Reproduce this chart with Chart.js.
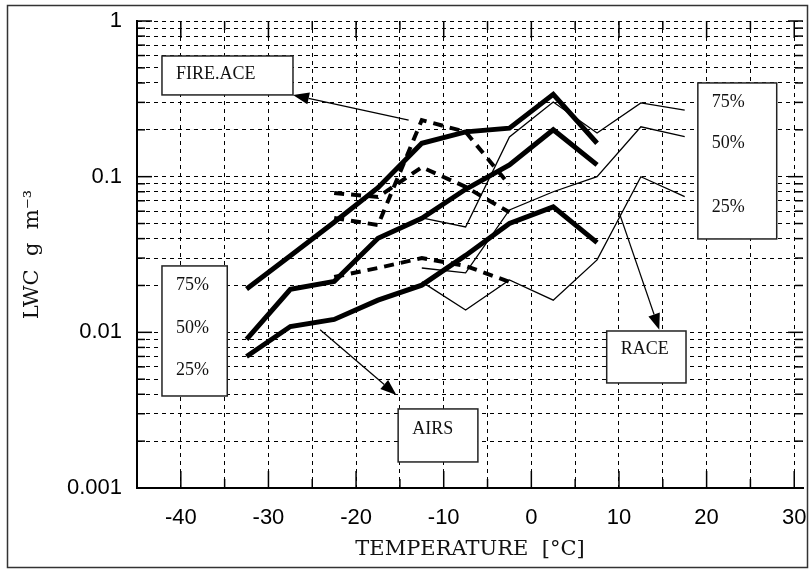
<!DOCTYPE html>
<html>
<head>
<meta charset="utf-8">
<script src="https://cdn.jsdelivr.net/npm/chart.js@4.4.0/dist/chart.umd.min.js"></script>
<style>
  html, body { margin: 0; padding: 0; background: #fff; }
  #wrap { width: 811px; height: 575px; }
</style>
</head>
<body>
<div id="wrap"><canvas id="myChart" width="811" height="575"></canvas></div>
<script>
// AIRS (thick solid), percentiles of LWC in g m-3
const airsTemps = [-32.5, -27.5, -22.5, -17.5, -12.5, -7.5, -2.5, 2.5, 7.5];
const airs75 = [0.019, 0.031, 0.051, 0.085, 0.164, 0.194, 0.205, 0.338, 0.164];
const airs50 = [0.009, 0.0189, 0.0212, 0.0402, 0.054, 0.083, 0.119, 0.200, 0.119];
const airs25 = [0.0070, 0.0109, 0.0121, 0.0161, 0.0201, 0.0312, 0.050, 0.064, 0.0377];

// FIRE.ACE (thick dashed)
const fireTemps = [-22.5, -17.5, -12.5, -7.5, -2.5];
const fire75 = [0.0543, 0.0489, 0.231, 0.194, 0.0884];
const fire50 = [0.0785, 0.074, 0.115, 0.086, 0.059];
const fire25 = [0.0227, 0.0259, 0.030, 0.0267, 0.0211];

// RACE (thin solid)
const raceTemps = [-12.5, -7.5, -2.5, 2.5, 7.5, 12.5, 17.5];
const race75 = [0.0543, 0.0475, 0.180, 0.302, 0.191, 0.298, 0.268];
const race50 = [0.0259, 0.0241, 0.0611, 0.080, 0.0999, 0.209, 0.181];
const race25 = [0.0211, 0.0139, 0.0217, 0.0161, 0.0292, 0.0999, 0.0744];

// axis ticks
const xTickValues = [-45, -40, -35, -30, -25, -20, -15, -10, -5, 0, 5, 10, 15, 20, 25, 30];
const xLabelValues = [-40, -30, -20, -10, 0, 10, 20, 30];
const yTickValues = [
    0.001, 0.002, 0.003, 0.004, 0.005, 0.006, 0.007, 0.008, 0.009,
    0.01, 0.02, 0.03, 0.04, 0.05, 0.06, 0.07, 0.08, 0.09,
    0.1, 0.2, 0.3, 0.4, 0.5, 0.6, 0.7, 0.8, 0.9, 1
];
const yLabelValues = [0.001, 0.01, 0.1, 1];

// boxes and arrows, placed in data units
const noteBoxes = [
    { x1: -42.15, x2: -27.2, y1: 0.596, y2: 0.335, texts: [['FIRE.ACE', 18]] },
    { x1: 19.0, x2: 28.0, y1: 0.40, y2: 0.0398, texts: [['75%', 19], ['50%', 60], ['25%', 124]] },
    { x1: -42.15, x2: -34.7, y1: 0.0267, y2: 0.0039, texts: [['75%', 19], ['50%', 62], ['25%', 104]] },
    { x1: -15.2, x2: -6.1, y1: 0.00322, y2: 0.00147, texts: [['AIRS', 20]] },
    { x1: 8.6, x2: 17.65, y1: 0.0102, y2: 0.00473, texts: [['RACE', 18]] }
];
const noteArrows = [
    { from: [-14.0, 0.231], to: [-27.2, 0.335] },
    { from: [-24.1, 0.0104], to: [-15.4, 0.00396] },
    { from: [10.0, 0.0593], to: [14.6, 0.0104] }
];

function pairs(xs, ys) {
    return xs.map((x, i) => ({ x: x, y: ys[i] }));
}

function lineSet(label, xs, ys, width, dash) {
    return {
        label: label,
        data: pairs(xs, ys),
        borderColor: '#000',
        backgroundColor: '#000',
        borderWidth: width,
        borderDash: dash || [],
        borderJoinStyle: 'miter',
        borderCapStyle: 'butt',
        pointRadius: 0,
        tension: 0,
        fill: false
    };
}

// inward ticks, annotation boxes, arrows and the outer frame
const decorations = {
    id: 'decorations',
    afterDraw(chart) {
        const ctx = chart.ctx;
        const xs = chart.scales.x;
        const ys = chart.scales.y;
        const area = chart.chartArea;
        const seg = (x1, y1, x2, y2) => {
            ctx.beginPath();
            ctx.moveTo(x1, y1);
            ctx.lineTo(x2, y2);
            ctx.stroke();
        };
        ctx.save();
        ctx.strokeStyle = '#000';
        ctx.lineWidth = 1.5;
        xTickValues.forEach(v => {
            const px = xs.getPixelForValue(v);
            const len = xLabelValues.includes(v) ? 17 : 9;
            seg(px, area.bottom, px, area.bottom - len);
            seg(px, area.top, px, area.top + len);
        });
        yTickValues.forEach(v => {
            const py = ys.getPixelForValue(v);
            const len = yLabelValues.includes(v) ? 15 : 8;
            seg(area.left, py, area.left + len, py);
            seg(area.right, py, area.right - len, py);
        });

        // boxes
        ctx.font = '18px "Liberation Serif", "Times New Roman", serif';
        ctx.textBaseline = 'middle';
        ctx.textAlign = 'left';
        noteBoxes.forEach(b => {
            const left = xs.getPixelForValue(b.x1);
            const right = xs.getPixelForValue(b.x2);
            const top = ys.getPixelForValue(b.y1);
            const bottom = ys.getPixelForValue(b.y2);
            ctx.fillStyle = '#fff';
            ctx.fillRect(left, top, right - left, bottom - top);
            ctx.lineWidth = 1.5;
            ctx.strokeStyle = '#222';
            ctx.strokeRect(left, top, right - left, bottom - top);
            ctx.fillStyle = '#111';
            b.texts.forEach(t => ctx.fillText(t[0], left + 14, top + t[1]));
        });

        // arrows
        ctx.strokeStyle = '#000';
        ctx.fillStyle = '#000';
        ctx.lineWidth = 1.2;
        noteArrows.forEach(a => {
            const x1 = xs.getPixelForValue(a.from[0]);
            const y1 = ys.getPixelForValue(a.from[1]);
            const x2 = xs.getPixelForValue(a.to[0]);
            const y2 = ys.getPixelForValue(a.to[1]);
            const ang = Math.atan2(y2 - y1, x2 - x1);
            const headLen = 16, headW = 6;
            const bx = x2 - headLen * Math.cos(ang);
            const by = y2 - headLen * Math.sin(ang);
            seg(x1, y1, bx, by);
            ctx.beginPath();
            ctx.moveTo(x2, y2);
            ctx.lineTo(bx + headW * Math.sin(ang), by - headW * Math.cos(ang));
            ctx.lineTo(bx - headW * Math.sin(ang), by + headW * Math.cos(ang));
            ctx.closePath();
            ctx.fill();
        });

        // outer frame of the figure
        ctx.strokeStyle = '#333';
        ctx.lineWidth = 1.5;
        ctx.strokeRect(7.5, 5.5, 800, 562);
        ctx.restore();
    }
};

const ctx = document.getElementById('myChart').getContext('2d');
const chart = new Chart(ctx, {
    type: 'line',
    data: {
        datasets: [
            lineSet('AIRS 75%', airsTemps, airs75, 5),
            lineSet('AIRS 50%', airsTemps, airs50, 5),
            lineSet('AIRS 25%', airsTemps, airs25, 5),
            lineSet('FIRE.ACE 75%', fireTemps, fire75, 4, [10, 7]),
            lineSet('FIRE.ACE 50%', fireTemps, fire50, 4, [10, 7]),
            lineSet('FIRE.ACE 25%', fireTemps, fire25, 4, [10, 7]),
            lineSet('RACE 75%', raceTemps, race75, 1.3),
            lineSet('RACE 50%', raceTemps, race50, 1.3),
            lineSet('RACE 25%', raceTemps, race25, 1.3)
        ]
    },
    options: {
        responsive: false,
        animation: false,
        layout: { padding: { top: 21, right: 8, bottom: 0, left: 0 } },
        plugins: {
            legend: { display: false },
            tooltip: { enabled: false }
        },
        scales: {
            x: {
                type: 'linear',
                min: -45,
                max: 31,
                afterBuildTicks: axis => { axis.ticks = xTickValues.map(v => ({ value: v })); },
                afterFit: axis => { axis.height = 87; axis.paddingLeft = 0; axis.paddingRight = 0; },
                grid: { color: '#000', lineWidth: 1, drawTicks: false },
                border: { display: true, color: '#000', width: 2, dash: [4, 4] },
                ticks: {
                    autoSkip: false,
                    maxRotation: 0,
                    padding: 17,
                    color: '#000',
                    font: { family: '"Liberation Sans", Arial, sans-serif', size: 22 },
                    callback: v => xLabelValues.includes(v) ? String(v) : ''
                },
                title: {
                    display: true,
                    text: 'TEMPERATURE  [\u00B0C]',
                    color: '#111',
                    font: { family: '"DejaVu Serif", serif', size: 21 },
                    padding: { top: 0, bottom: 13 }
                }
            },
            y: {
                type: 'logarithmic',
                min: 0.001,
                max: 1,
                afterBuildTicks: axis => { axis.ticks = yTickValues.map(v => ({ value: v })); },
                afterFit: axis => { axis.width = 137; axis.paddingTop = 0; axis.paddingBottom = 0; },
                grid: { color: '#000', lineWidth: 1, drawTicks: false },
                border: { display: true, color: '#000', width: 2, dash: [4, 4] },
                ticks: {
                    autoSkip: false,
                    padding: 15,
                    color: '#000',
                    font: { family: '"Liberation Sans", Arial, sans-serif', size: 22 },
                    callback: v => yLabelValues.includes(v) ? String(v) : ''
                },
                title: {
                    display: true,
                    text: 'LWC  g  m\u207B\u00B3',
                    color: '#111',
                    font: { family: '"DejaVu Serif", serif', size: 21 },
                    padding: { top: 20, bottom: 0 }
                }
            }
        }
    },
    plugins: [decorations]
});
</script>
</body>
</html>
